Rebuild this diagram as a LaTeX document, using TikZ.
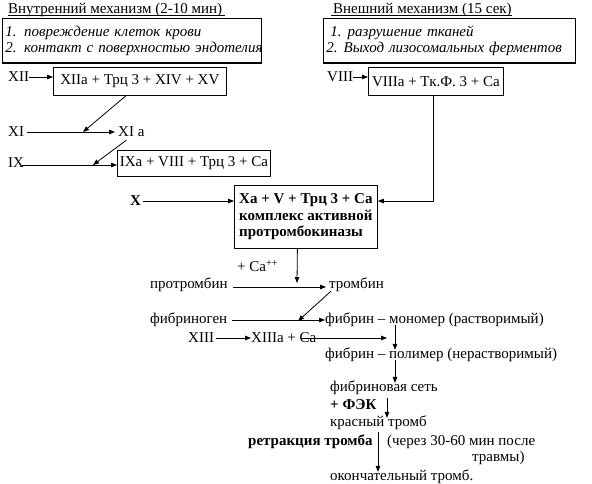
\documentclass[tikz,border=0pt]{standalone}
\usepackage{fontspec}
\setmainfont{Liberation Serif}
\usetikzlibrary{arrows.meta}
\begin{document}
\begin{tikzpicture}[x=1pt,y=-1pt,
  every node/.style={font=\fontsize{15}{16}\selectfont},
  txt/.style={inner sep=0pt, anchor=west},
  bfs/.style={font=\fontsize{15}{16}\selectfont\bfseries},
  box/.style={draw, line width=0.8pt, inner sep=2pt, anchor=north west},
  arr/.style={line width=0.8pt, -{Triangle[length=6pt,width=4.5pt]}},
  ln/.style={line width=0.8pt}]
\useasboundingbox (0,0) rectangle (592,483);
% titles
\node[txt] (t1) at (8,10) {Внутренний механизм (2-10 мин)};
\draw[ln] ([yshift=1.5]t1.south west) -- ([xshift=3,yshift=1.5]t1.south east);
\node[txt] (t2) at (333,10) {Внешний механизм (15 сек)};
\draw[ln] ([xshift=-2,yshift=1.5]t2.south west) -- ([yshift=1.5]t2.south east);
% top boxes
\node[box, minimum width=259, minimum height=44, text width=253, align=left, inner sep=3pt] (b1) at (2,18)
  {\itshape \mbox{1. повреждение клеток крови}\\ \mbox{2. контакт с поверхностью эндотелия}};
\draw[line width=2pt] (b1.south west) -- (b1.south east);
\node[box, minimum width=252, minimum height=44, text width=246, align=left, inner sep=3pt] (b2) at (323,18)
  {\itshape \mbox{\hspace*{4pt}1.\hspace{6pt}разрушение тканей}\\ \mbox{2.\hspace{6pt}Выход лизосомальных ферментов}};
\draw[line width=2pt] (b2.south west) -- (b2.south east);
% intrinsic chain
\node[txt] (xii) at (8,77) {XII};
\node[box, minimum width=173, minimum height=28] (xiia) at (53,67) {XIIa + Трц 3 + XIV + XV};
\draw[arr] (xii.east) -- (xiia.west |- xii.east);
\node[txt] (xi) at (8,132) {XI};
\node[txt] (xia) at (118,132) {XI a};
\draw[arr] ([xshift=3]xi.east) -- ([xshift=-3]xia.west);
\coordinate (m1) at (83,132);
\draw[arr] ([xshift=-14]xiia.south) -- (m1);
\node[txt] (ix) at (8,163) {IX};
\node[box, minimum width=153, minimum height=26] (ixa) at (117,150) {IXa + VIII + Трц 3 + Са};
\coordinate (m2) at (93,165);
\draw[arr] ([xshift=-2]ix.east |- m2) -- (ixa.west |- m2);
\draw[arr] ([xshift=-5,yshift=-3]xia.south) -- (m2);
% X complex
\node[txt, bfs] (x) at (130,201) {X};
\node[box, minimum width=143, minimum height=63, align=left, inner sep=3pt,
  font=\fontsize{15}{16.5}\selectfont\bfseries] (xa) at (234,185)
  {Xa + V + Трц 3 + Са\\ комплекс активной\\ протромбокиназы};
\draw[arr] ([xshift=2]x.east) -- (xa.west |- x.east);
% extrinsic chain
\node[txt] (viii) at (327,77) {VIII};
\node[box, minimum width=135, minimum height=28] (viiia) at (368,67) {VIIIa + Тк.Ф. 3 + Са};
\draw[arr] (viii.east) -- (viiia.west |- viii.east);
\draw[arr] ([xshift=-3]viiia.south) |- (xa.east |- x.east);
% prothrombin
\node[txt] (ca) at (237,266) {+ Са\textsuperscript{++}};
\node[txt] (prot) at (150,285) {протромбин};
\node[txt] (thr) at (329,285) {тромбин};
\draw[arr] ([xshift=5,yshift=-2]prot.east) -- ([xshift=-3,yshift=-2]thr.west);
\coordinate (m3) at (297,283);
\draw[arr] ([xshift=-8.5]xa.south) -- (m3);
% fibrinogen
\node[txt] (fbg) at (150,320) {фибриноген};
\node[txt] (mono) at (325,320) {фибрин – мономер (растворимый)};
\draw[arr] ([xshift=5]fbg.east) -- (mono.west);
\coordinate (m4) at (298,321);
\draw[arr] ([xshift=2,yshift=1]thr.south west) -- (m4);
% XIII
\node[txt] (xiii) at (188,338) {XIII};
\node[txt] (xiiia) at (251,338) {XIIIa + Са};
\draw[arr] ([xshift=2]xiii.east) -- (xiiia.west);
\coordinate (m5) at (387,338);
\draw[arr] ([xshift=-15]xiiia.east) -- (m5);
% polymer
\node[txt] (poly) at (325,355) {фибрин – полимер (нерастворимый)};
\draw[arr] ([xshift=70,yshift=2]mono.south west) -- ([xshift=70,yshift=-2]poly.north west);
\node[txt] (set) at (330,388) {фибриновая сеть};
\draw[arr] ([xshift=70,yshift=2]poly.south west) -- ([xshift=65,yshift=-2]set.north west);
\node[txt, bfs] (fek) at (330,405) {+ ФЭК};
\node[txt] (kras) at (330,423) {красный тромб};
\draw[arr] ([xshift=57,yshift=-3]set.south west) -- ([xshift=57,yshift=-2]kras.north west);
\node[txt, bfs] (retr) at (248,442) {ретракция тромба};
\node[txt] (cher) at (387,442) {(через 30-60 мин после};
\node[txt] (trav) at (472,458) {травмы)};
\node[txt] (okon) at (330,477) {окончательный тромб.};
\draw[arr] ([xshift=48,yshift=-2]kras.south west) -- ([xshift=48,yshift=-2]okon.north west);
\end{tikzpicture}
\end{document}
